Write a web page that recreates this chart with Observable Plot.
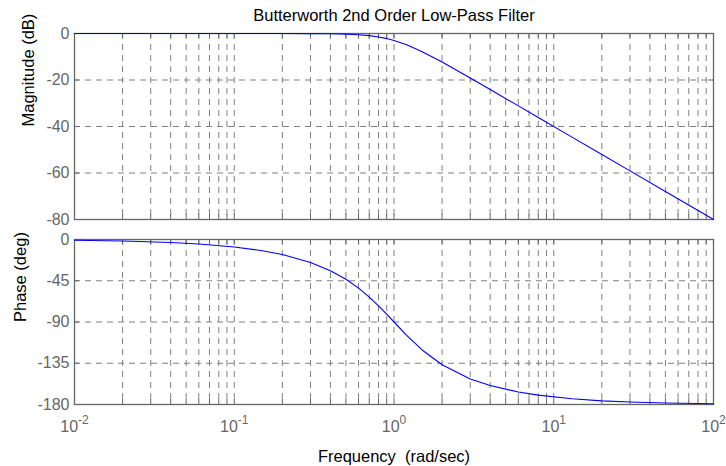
<!DOCTYPE html>
<html>
<head>
<meta charset="utf-8">
<script src="https://cdn.jsdelivr.net/npm/d3@7"></script>
<script src="https://cdn.jsdelivr.net/npm/@observablehq/plot@0.6"></script>
<style>
  html, body { margin: 0; padding: 0; background: #fff; }
  #chart { position: relative; width: 726px; height: 466px; overflow: hidden; }
  #chart svg { display: block; }
</style>
</head>
<body>
<div id="chart"></div>
<script>
// ---- data ----
const titleText = "Butterworth 2nd Order Low-Pass Filter";
const magLabel = "Magnitude (dB)";
const phaseLabel = "Phase (deg)";
const xLabel = "Frequency  (rad/sec)";

const freq = [0.01, 0.02, 0.04, 0.06, 0.1, 0.15, 0.2, 0.3, 0.4, 0.5, 0.6, 0.7, 0.8, 0.9, 1, 1.2, 1.5, 2, 3, 4, 6, 8, 13, 20, 30, 50, 100];
const magDb = [0, 0, 0, 0, 0, 0, -0.01, -0.04, -0.11, -0.26, -0.53, -0.93, -1.49, -2.19, -3.01, -4.88, -7.83, -12.3, -19.14, -24.1, -31.13, -36.12, -44.56, -52.04, -59.08, -67.96, -80];
const phaseDeg = [-0.8, -1.6, -3.2, -4.9, -8.1, -12.2, -16.4, -25.0, -34.0, -43.3, -53.0, -62.8, -72.4, -81.5, -90, -104.5, -120.5, -136.7, -152.1, -159.3, -166.4, -169.8, -173.8, -176.0, -177.3, -178.4, -179.2];

const decadeTicks = [0.01, 0.1, 1, 10, 100];
const gridFreqs = [
  0.01, 0.02, 0.03, 0.04, 0.05, 0.06, 0.07, 0.08, 0.09,
  0.1, 0.2, 0.3, 0.4, 0.5, 0.6, 0.7, 0.8, 0.9,
  1, 2, 3, 4, 5, 6, 7, 8, 9,
  10, 20, 30, 40, 50, 60, 70, 80, 90, 100
];
const magTicks = [0, -20, -40, -60, -80];
const phaseTicks = [0, -45, -90, -135, -180];

// ---- build ----
const rows = freq.map((f, i) => ({f, mag: magDb[i], phase: phaseDeg[i]}));
const FONT = "'Liberation Sans', Arial, Helvetica, sans-serif";
const gridStyle = {stroke: "#808080", strokeOpacity: 1, strokeWidth: 1, strokeDasharray: "6,5"};
const frameStyle = {stroke: "#666", strokeWidth: 1.3};
const tickText = "#666";
const TICK = 5;

function edgeTicks(yTicks, frameH) {
  const s = {stroke: "#666", strokeOpacity: 1, strokeWidth: 1};
  return [
    Plot.tickX(gridFreqs, {...s, insetTop: frameH - TICK}),
    Plot.tickX(gridFreqs, {...s, insetBottom: frameH - TICK}),
    Plot.tickY(yTicks, {...s, insetRight: 639 - TICK}),
    Plot.tickY(yTicks, {...s, insetLeft: 639 - TICK})
  ];
}

const common = {
  width: 726,
  marginLeft: 74,
  marginRight: 13,
  style: {fontFamily: FONT, fontSize: "16px", background: "#fff", overflow: "visible"},
  x: {type: "log", domain: [0.01, 100]}
};

const magPlot = Plot.plot({
  ...common,
  height: 230,
  marginTop: 33,
  marginBottom: 11,
  y: {domain: [-80, 0]},
  marks: [
    Plot.gridX(gridFreqs, gridStyle),
    Plot.gridY(magTicks, gridStyle),
    ...edgeTicks(magTicks, 186),
    Plot.frame(frameStyle),
    Plot.axisY(magTicks, {tickSize: 0, tickPadding: 5, fill: tickText, fontSize: 16, label: null, tickFormat: d => String(d)}),
    Plot.axisX([], {label: null}),
    Plot.line(rows, {x: "f", y: "mag", stroke: "#0000ff", strokeWidth: 1.1}),
    Plot.text([titleText], {frameAnchor: "top", lineAnchor: "middle", dy: -17.5, fontSize: 16.5, fill: "#000"}),
    Plot.text([magLabel], {frameAnchor: "left", lineAnchor: "middle", rotate: -90, dx: -46, fontSize: 16.5, fill: "#000"})
  ]
});

const phasePlot = Plot.plot({
  ...common,
  height: 236,
  marginTop: 9,
  marginBottom: 62,
  y: {domain: [-180, 0]},
  marks: [
    Plot.gridX(gridFreqs, gridStyle),
    Plot.gridY(phaseTicks, gridStyle),
    ...edgeTicks(phaseTicks, 165),
    Plot.frame(frameStyle),
    Plot.axisY(phaseTicks, {tickSize: 0, tickPadding: 5, fill: tickText, fontSize: 16, label: null, tickFormat: d => String(d)}),
    Plot.axisX(decadeTicks, {tickSize: 0, tickPadding: 16, fill: tickText, fontSize: 16, label: null,
      tickFormat: d => "10^" + Math.round(Math.log10(d))}),
    Plot.line(rows, {x: "f", y: "phase", stroke: "#0000ff", strokeWidth: 1.1}),
    Plot.text([xLabel], {frameAnchor: "bottom", lineAnchor: "middle", dy: 52, fontSize: 16.5, fill: "#000"}),
    Plot.text([phaseLabel], {frameAnchor: "left", lineAnchor: "middle", rotate: -90, dx: -54, fontSize: 16.5, fill: "#000"})
  ]
});

// turn "10^n" tick labels into 10 with a raised exponent
d3.select(phasePlot).selectAll('g[aria-label="x-axis tick label"] text').each(function () {
  const t = d3.select(this);
  const s = this.textContent;
  if (!s.includes("^")) return;
  const [base, exp] = s.split("^");
  t.text(null);
  t.append("tspan").text(base);
  t.append("tspan").attr("dy", "-8").attr("font-size", "12").text(exp);
});

const host = document.getElementById("chart");
host.append(magPlot, phasePlot);
</script>
</body>
</html>
